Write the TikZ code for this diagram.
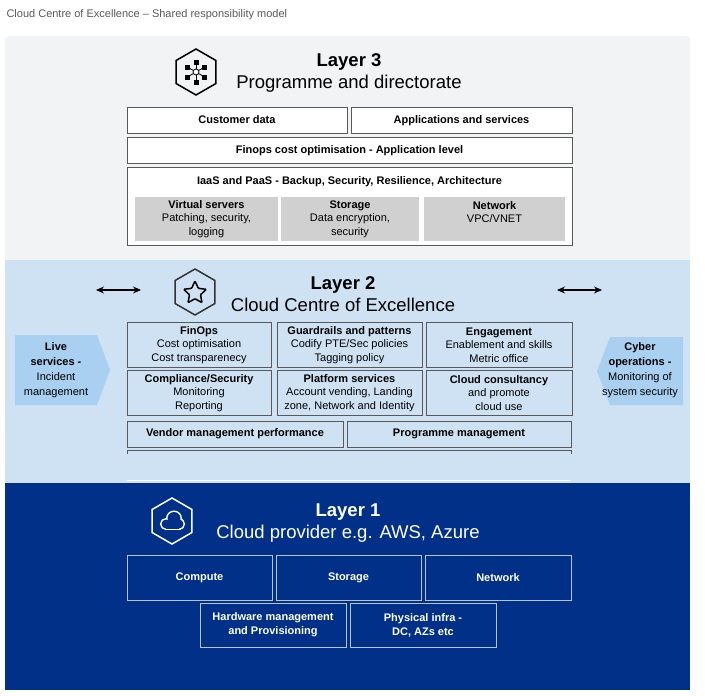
\documentclass[tikz,border=0pt]{standalone}
\usepackage{fontspec}
\setmainfont{Liberation Sans}
\usetikzlibrary{shapes.geometric,arrows.meta}
\definecolor{greyband}{HTML}{F2F3F5}
\definecolor{paleband}{HTML}{CFE2F3}
\definecolor{navyband}{HTML}{003087}
\definecolor{sidearrow}{HTML}{A9D0F0}
\definecolor{cellgrey}{HTML}{D0D0D0}
\tikzset{
  cell/.style={draw=gray!70!black, thick, fill=white, minimum height=26pt, align=center, text height=8pt, text depth=2pt, font=\bfseries\fontsize{11}{13}\selectfont, inner sep=1pt},
  bluecell/.style={draw=gray!70!black, thick, fill=paleband, align=center, font=\fontsize{11}{13.5}\selectfont, inner sep=1pt},
  navycell/.style={draw=paleband!70!gray, thick, fill=navyband, text=white, align=center, font=\bfseries\fontsize{11}{14}\selectfont, inner sep=1pt},
  greycell/.style={fill=cellgrey, align=center, font=\fontsize{11}{13.5}\selectfont, inner sep=1pt},
  hexicon/.style={draw, regular polygon, regular polygon sides=6, rotate=30, line width=1.5pt, minimum size=46pt, inner sep=0pt},
  layertitle/.style={align=center, font=\fontsize{18.5}{22}\selectfont}
}
\begin{document}
\begin{tikzpicture}[x=1pt,y=-1pt]
    \useasboundingbox (0,0) rectangle (705,696);
    % Bands
    \fill[greyband, rounded corners=4pt] (5,36) rectangle (690,262);
    \fill[paleband] (5,260) rectangle (690,484);
    \fill[navyband] (5,483) rectangle (690,690);
    \node[anchor=west, text=gray!70!black, font=\fontsize{11}{13}\selectfont] (caption) at (3,15) {Cloud Centre of Excellence – Shared responsibility model};

    % Layer 3
    \node[hexicon] (iconThree) at (196,72) {};
    \foreach \a in {30,90,...,330} {
        \draw[thick] (196,72) -- ++(\a:9);
        \fill (196,72) ++(\a:10) +(-2.5,-2.5) rectangle +(2.5,2.5);
    }
    \draw[fill=white, thick] (196,72) circle (3);
    \node[layertitle] (titleThree) at (349,73) {\textbf{Layer 3}\\Programme and directorate};
    \node[cell, minimum width=220pt] (custData) at (237,120) {Customer data};
    \node[cell, minimum width=221pt] (appServ) at (461.5,120) {Applications and services};
    \node[cell, minimum width=445pt] (finops) at (349.5,150) {Finops cost optimisation - Application level};
    \node[cell, minimum width=445pt, minimum height=78pt] (iaas) at (349.5,206) {};
    \node[font=\bfseries\fontsize{11}{13}\selectfont] (iaasText) at (349.5,182) {IaaS and PaaS - Backup, Security, Resilience, Architecture};
    \node[greycell, minimum width=143pt, minimum height=44pt] (vServers) at (206.5,219) {\textbf{Virtual servers}\\Patching, security,\\logging};
    \node[greycell, minimum width=138pt, minimum height=44pt] (storThree) at (350,219) {\textbf{Storage}\\Data encryption,\\security};
    \node[greycell, minimum width=141pt, minimum height=44pt] (netThree) at (494.5,219) {\textbf{Network}\\VPC/VNET\\\mbox{}};

    % Layer 2
    \draw[{Stealth[length=8pt,width=7pt]}-{Stealth[length=8pt,width=7pt]}, line width=1.3pt] (96,290) -- (141,290);
    \draw[{Stealth[length=8pt,width=7pt]}-{Stealth[length=8pt,width=7pt]}, line width=1.3pt] (557,290) -- (602,290);
    \node[hexicon, draw=black!80] (iconTwo) at (195,292) {};
    \node[star, star points=5, star point ratio=2.1, draw, line width=1.5pt, minimum size=24pt, inner sep=0pt, rounded corners=1pt] (starIcon) at (195,293) {};
    \node[layertitle] (titleTwo) at (343,294) {\textbf{Layer 2}\\Cloud Centre of Excellence};
    \node[bluecell, minimum width=144pt, minimum height=45pt] (finOps) at (199,345) {\textbf{FinOps}\\Cost optimisation\\Cost transparenecy};
    \node[bluecell, minimum width=145pt, minimum height=45pt] (guardrails) at (349.5,345) {\textbf{Guardrails and patterns}\\Codify PTE/Sec policies\\Tagging policy};
    \node[bluecell, minimum width=146pt, minimum height=45pt] (engage) at (499,345) {\textbf{Engagement}\\Enablement and skills\\Metric office};
    \node[bluecell, minimum width=144pt, minimum height=45pt] (compliance) at (199,393) {\textbf{Compliance/Security}\\Monitoring\\Reporting};
    \node[bluecell, minimum width=145pt, minimum height=45pt] (platform) at (349.5,393) {\textbf{Platform services}\\Account vending, Landing\\zone, Network and Identity};
    \node[bluecell, minimum width=146pt, minimum height=45pt] (consult) at (499,393) {\textbf{Cloud consultancy}\\and promote\\cloud use};
    \node[bluecell, minimum width=216pt, minimum height=26pt, font=\bfseries\fontsize{11}{13}\selectfont] (vendor) at (235,434) {Vendor management performance};
    \node[bluecell, minimum width=224pt, minimum height=26pt, font=\bfseries\fontsize{11}{13}\selectfont] (progMgmt) at (459,434) {Programme management};
    \draw[gray!70!black, thick] (127,454) -- (127,450) -- (571,450) -- (571,454);
    \draw[white] (127,480) -- (571,480);
    \fill[sidearrow] (15,335) -- (97,335) -- (110,370) -- (97,405) -- (15,405) -- cycle;
    \fill[sidearrow] (683,337) -- (610,337) -- (597,371) -- (610,405) -- (683,405) -- cycle;
    \node[align=center, font=\fontsize{11}{15}\selectfont] (liveServ) at (56,370) {\textbf{Live}\\\textbf{services -}\\Incident\\management};
    \node[align=center, font=\fontsize{11}{15}\selectfont] (cyberOps) at (640,370) {\textbf{Cyber}\\\textbf{operations -}\\Monitoring of\\system security};

    % Layer 1
    \node[hexicon, draw=white] (iconOne) at (172,521) {};
    \foreach \c/\r in {{(166,524)}/4.5, {(174,518.5)}/6.5, {(179,524)}/4.5}
        \draw[white, line width=3pt] \c circle (\r);
    \draw[white, line width=3pt] (166,520) rectangle (179,528.5);
    \foreach \c/\r in {{(166,524)}/4.5, {(174,518.5)}/6.5, {(179,524)}/4.5}
        \fill[navyband] \c circle (\r);
    \fill[navyband] (166,520) rectangle (179,528.5);
    \node[layertitle, text=white] (titleOne) at (348,523) {\textbf{Layer 1}\\Cloud provider e.g. AWS, Azure};
    \node[navycell, minimum width=145pt, minimum height=45pt] (compute) at (199.5,577.5) {Compute};
    \node[navycell, minimum width=145pt, minimum height=45pt] (storOne) at (348.5,577.5) {Storage};
    \node[navycell, minimum width=146pt, minimum height=45pt] (netOne) at (498,577.5) {Network};
    \node[navycell, minimum width=146pt, minimum height=44pt] (hardware) at (273,625) {Hardware management\\and Provisioning};
    \node[navycell, minimum width=146pt, minimum height=44pt] (physical) at (423,625) {Physical infra -\\DC, AZs etc};
\end{tikzpicture}
\end{document}
